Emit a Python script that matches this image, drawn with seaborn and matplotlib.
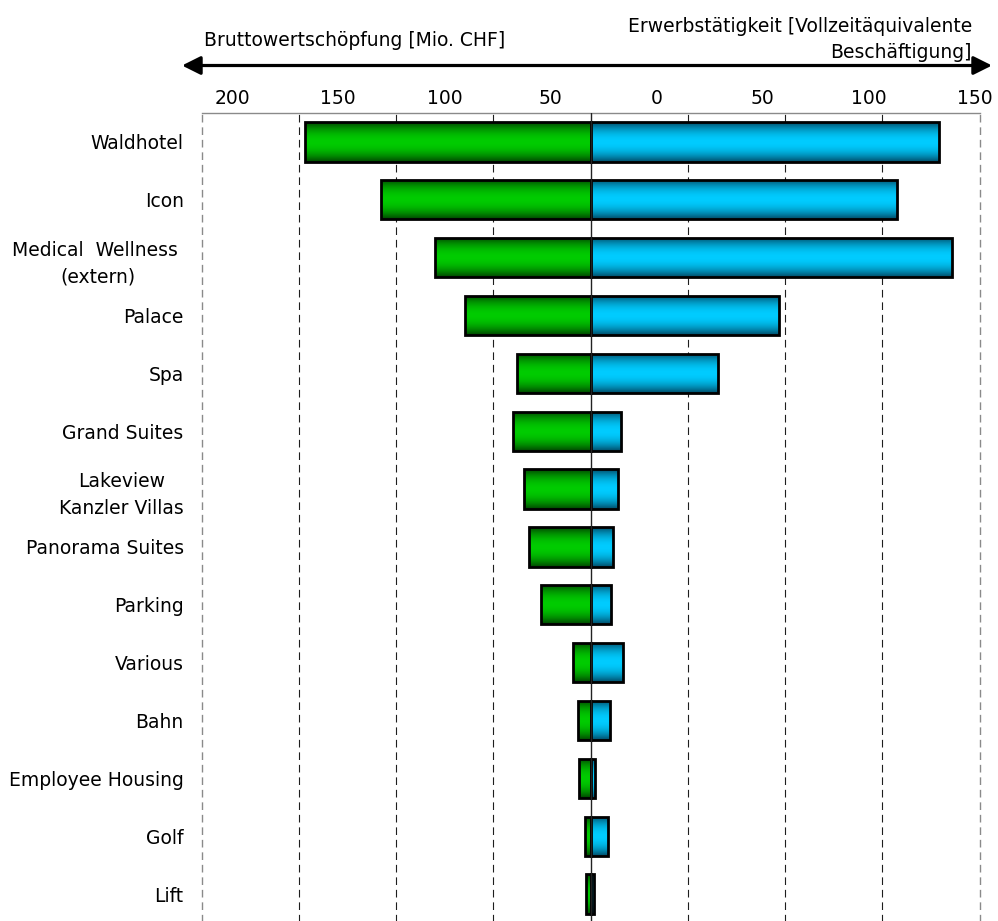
import numpy as np
import pandas as pd
import matplotlib
matplotlib.use("Agg")
import matplotlib.pyplot as plt
import matplotlib.transforms as mtransforms
from matplotlib.colors import to_rgb
from matplotlib.patches import FancyArrowPatch
import seaborn as sns

# ---- data -------------------------------------------------------------
categories = [
    "Waldhotel", "Icon", "Medical  Wellness \n(extern)", "Palace", "Spa",
    "Grand Suites", "Lakeview\nKanzler Villas", "Panorama Suites", "Parking",
    "Various", "Bahn", "Employee Housing", "Golf", "Lift",
]
# gross value added, Mio. CHF (left side)
value_added = [147, 108, 80, 64.5, 37.8, 40, 34.4, 31.7, 25.7, 9.2, 6.3, 6.0, 2.9, 2.2]
# employment, full-time equivalents (right side)
employment = [134.4, 118.1, 139.3, 72.8, 48.9, 11.7, 10.6, 8.7, 7.7, 12.6, 7.5, 1.8, 6.7, 1.4]

tick_labels = ["200", "150", "100", "50", "0", "50", "100", "150"]
left_title = "Bruttowertschöpfung [Mio. CHF]"
right_title_1 = "Erwerbstätigkeit [Vollzeitäquivalente"
right_title_2 = "Beschäftigung]"

df = pd.DataFrame({
    "category": categories,
    "value_added_neg": [-v for v in value_added],
    "employment": employment,
})

# ---- style ------------------------------------------------------------
sns.set_theme(style="white")
plt.rcParams["font.family"] = ["DejaVu Sans"]
plt.rcParams["text.color"] = "black"
plt.rcParams["lines.scale_dashes"] = False
FS = 13.5

W, H = 998, 921
fig = plt.figure(figsize=(W / 100, H / 100), dpi=100)
fig.patch.set_facecolor("white")

ax = fig.add_axes([201.7 / W, -2 / H, 778 / W, 810 / H])
ax.set_facecolor("white")
ax2 = ax.twiny()

BAR_H = 0.68
EDGE_LW = 2.0

sns.barplot(data=df, x="value_added_neg", y="category", orient="h", ax=ax,
            color="#00c800", saturation=1, width=BAR_H, errorbar=None,
            edgecolor="black", linewidth=EDGE_LW, zorder=3)
sns.barplot(data=df, x="employment", y="category", orient="h", ax=ax2,
            color="#00c8ff", saturation=1, width=BAR_H, errorbar=None,
            edgecolor="black", linewidth=EDGE_LW, zorder=3)


def gradient_fill(axis, dark, bright):
    """Replace the flat bar faces with a dark-bright-dark vertical gradient."""
    c0, c1 = np.array(to_rgb(dark)), np.array(to_rgb(bright))
    t = np.linspace(0, 1, 128)
    w = np.clip(1 - np.abs(2 * t - 1) ** 2.0, 0, 1)
    img = (c0[None, :] * (1 - w[:, None]) + c1[None, :] * w[:, None])[:, None, :]
    for p in list(axis.patches):
        x0, x1 = sorted([p.get_x(), p.get_x() + p.get_width()])
        y0, y1 = p.get_y(), p.get_y() + p.get_height()
        im = axis.imshow(img, extent=(x0, x1, y0, y1), aspect="auto",
                         origin="lower", interpolation="bilinear",
                         zorder=p.get_zorder() - 0.1)
        im.set_clip_path(p)
        p.set_facecolor("none")


gradient_fill(ax, "#004400", "#00cc00")
gradient_fill(ax2, "#004a66", "#00ccff")

n = len(categories)
ax.set_xlim(-200, 200)
ax2.set_xlim(-150, 150)
ax.set_ylim(n - 0.5, -0.5)
ax.set_aspect("auto")
ax2.set_aspect("auto")

# grid: dashed lines every 50 (Mio. CHF scale), solid centre line
for gx in [-150, -100, -50, 50, 100, 150]:
    ax.axvline(gx, color="#1e1e1e", lw=0.8, linestyle=(0, (5.5, 3.5)), zorder=1)
for gx in [-200, 200]:
    ax.axvline(gx, color="#8a8a8a", lw=1.0, linestyle=(0, (5.5, 3.5)),
               zorder=1, clip_on=False)
ax2.axvline(0, color="#222222", lw=1.0, zorder=10)

for s in ax.spines.values():
    s.set_visible(False)
for s in ax2.spines.values():
    s.set_visible(False)
ax.spines["top"].set_visible(True)
ax.spines["top"].set_color("#8a8a8a")
ax.spines["top"].set_linewidth(1.0)

ax.tick_params(axis="x", bottom=False, labelbottom=False, top=False, labeltop=False)
ax2.tick_params(axis="x", bottom=False, labelbottom=False, top=False, labeltop=False)
ax.set_xlabel("")
ax.set_ylabel("")
ax2.set_xlabel("")
ax2.set_ylabel("")

ax.set_yticks(range(n))
ax.set_yticklabels(categories)
ax.tick_params(axis="y", length=0, pad=13, labelsize=FS, labelcolor="black")
for lbl in ax.get_yticklabels():
    lbl.set_multialignment("center")
    lbl.set_linespacing(1.5)

# scale labels above the plot
trans = mtransforms.blended_transform_factory(ax.transAxes, fig.transFigure)
for xf, lab in zip(np.linspace(0.039, 0.994, len(tick_labels)), tick_labels):
    ax.text(xf, 1 - 98 / H, lab, transform=trans, ha="center", va="center",
            fontsize=FS, color="black", clip_on=False)

# double-headed arrow and side titles
arrow = FancyArrowPatch((182 / W, 1 - 65.5 / H), (992 / W, 1 - 65.5 / H),
                        transform=fig.transFigure, arrowstyle="<|-|>",
                        mutation_scale=28, lw=2.3, color="black",
                        shrinkA=0, shrinkB=0)
fig.add_artist(arrow)
fig.text(204 / W, 1 - 40 / H, left_title, ha="left", va="center",
         fontsize=FS, color="black")
fig.text(628 / W, 1 - 27 / H, right_title_1, ha="left", va="center",
         fontsize=FS, color="black")
fig.text(972 / W, 1 - 52 / H, right_title_2, ha="right", va="center",
         fontsize=FS, color="black")

fig.savefig("out.png", dpi=100, facecolor="white")
